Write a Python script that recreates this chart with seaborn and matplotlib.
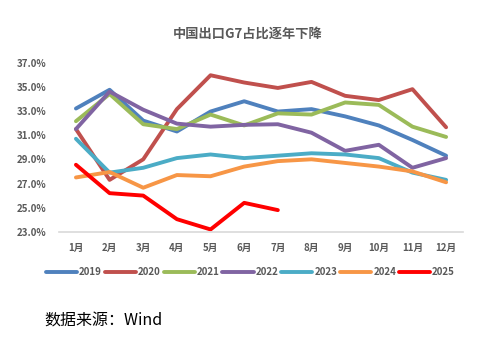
import matplotlib
matplotlib.use("Agg")
import matplotlib.pyplot as plt
import seaborn as sns
import pandas as pd

months = ["1月", "2月", "3月", "4月", "5月", "6月", "7月", "8月", "9月", "10月", "11月", "12月"]
y2019 = [33.2, 34.75, 32.2, 31.3, 32.95, 33.8, 32.95, 33.15, 32.55, 31.8, 30.6, 29.3]
y2020 = [31.5, 27.3, 29.0, 33.15, 35.95, 35.35, 34.9, 35.4, 34.25, 33.9, 34.8, 31.65]
y2021 = [32.15, 34.4, 31.9, 31.5, 32.7, 31.8, 32.8, 32.7, 33.7, 33.5, 31.7, 30.85]
y2022 = [31.5, 34.6, 33.1, 31.95, 31.7, 31.85, 31.9, 31.2, 29.7, 30.2, 28.3, 29.1]
y2023 = [30.7, 27.9, 28.3, 29.1, 29.4, 29.1, 29.3, 29.5, 29.4, 29.1, 27.9, 27.3]
y2024 = [27.5, 27.95, 26.65, 27.7, 27.6, 28.4, 28.85, 29.0, 28.7, 28.4, 28.0, 27.1]
y2025 = [28.55, 26.2, 26.0, 24.05, 23.2, 25.4, 24.8]
years = ["2019", "2020", "2021", "2022", "2023", "2024", "2025"]
series = [y2019, y2020, y2021, y2022, y2023, y2024, y2025]
colors = ["#4F81BD", "#C0504D", "#9BBB59", "#8064A2", "#4BACC6", "#F79646", "#FF0000"]
yticks = [23, 25, 27, 29, 31, 33, 35, 37]

rows = []
for yr, vals in zip(years, series):
    for i, v in enumerate(vals):
        rows.append({"month": i + 1, "value": v, "year": yr})
df = pd.DataFrame(rows)

sns.set_style("white")
plt.rcParams['font.family'] = ['Noto Sans CJK SC', 'DejaVu Sans']

fig = plt.figure(figsize=(5.01, 3.40), dpi=100)
ax = fig.add_axes([0.118, 0.318, 0.806, 0.498])

sns.lineplot(data=df, x="month", y="value", hue="year", palette=dict(zip(years, colors)),
             linewidth=2.8, sort=False, ax=ax, legend=False)

ax.set_xlim(0.5, 12.5)
ax.set_ylim(23, 37)
ax.set_xticks(range(1, 13))
ax.set_xticklabels(months)
ax.set_yticks(yticks)
ax.set_yticklabels([f"{t:.1f}%" for t in yticks])
ax.set_xlabel("")
ax.set_ylabel("")
for s in ["top", "right", "left"]:
    ax.spines[s].set_visible(False)
ax.spines["bottom"].set_color("#D9D9D9")
ax.spines["bottom"].set_linewidth(1.2)
ax.tick_params(axis="both", length=0, labelsize=7, labelcolor="#595959", pad=8)
ax.tick_params(axis="y", pad=9)
for lab in ax.get_xticklabels() + ax.get_yticklabels():
    lab.set_fontweight("bold")

fig.text(0.494, 0.902, "中国出口G7占比逐年下降", ha="center", va="center",
         fontsize=9.5, fontweight="bold", color="#595959")

handles = [plt.Line2D([0], [0], color=c, lw=2.8, solid_capstyle="round") for c in colors]
leg = fig.legend(handles, years, loc="center", bbox_to_anchor=(0.5, 0.2), ncol=7, frameon=False,
                 fontsize=7, handlelength=3.2, handletextpad=0.2, columnspacing=0.3)
for t in leg.get_texts():
    t.set_color("#595959")
    t.set_fontweight("bold")

fig.text(0.088, 0.056, "数据来源：Wind", ha="left", va="center", fontsize=11.5, color="#000000")

fig.savefig("out.png", dpi=100)
